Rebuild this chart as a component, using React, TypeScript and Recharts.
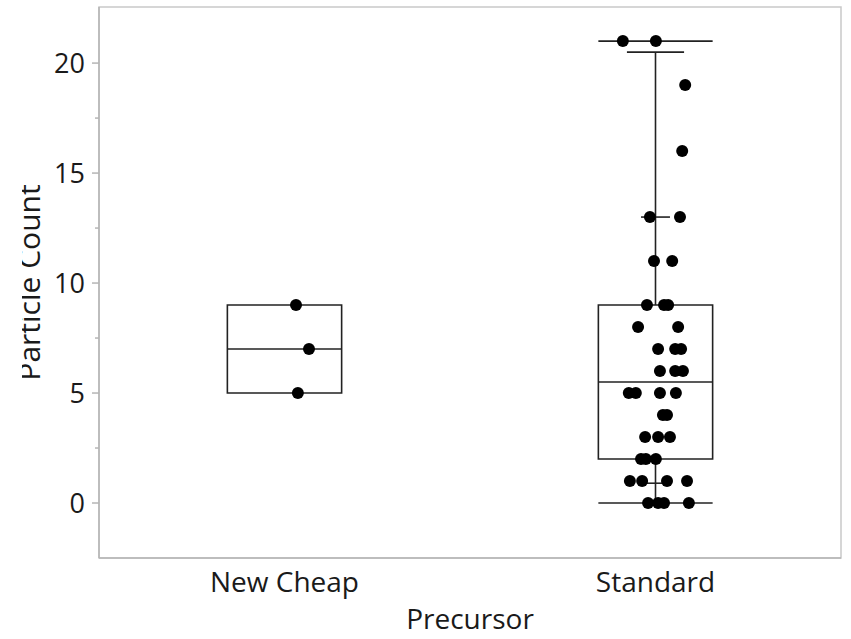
import { ComposedChart, Scatter, XAxis, YAxis, ReferenceArea, ReferenceLine } from 'recharts';

// categories and tick labels
const categories = ['New Cheap', 'Standard'];
const yTicks = [0, 2.5, 5, 7.5, 10, 12.5, 15, 17.5, 20];

// raw points (value + jitter offset, in category widths)
const newCheapValues = [9, 7, 5];
const newCheapJitter = [0.031, 0.066, 0.036];

const standardValues = [
  21, 21, 19, 16, 13, 13, 11, 11, 9, 9, 9, 8, 8, 7, 7, 7, 6, 6, 6,
  5, 5, 5, 5, 4, 4, 3, 3, 3, 2, 2, 2, 1, 1, 1, 1, 0, 0, 0, 0,
];
const standardJitter = [
  -0.088, 0.001, 0.08, 0.072, -0.015, 0.066, -0.004, 0.045, -0.023, 0.023, 0.034,
  -0.047, 0.061, 0.007, 0.053, 0.069, 0.012, 0.053, 0.074,
  -0.072, -0.053, 0.012, 0.055, 0.02, 0.031, -0.028, 0.007, 0.039,
  -0.039, -0.026, 0.001, -0.069, -0.036, 0.031, 0.085, -0.02, 0.007, 0.023, 0.09,
];

// box summaries per category
const boxQ1 = [5, 2];
const boxMedian = [7, 5.5];
const boxQ3 = [9, 9];

// Standard: whisker ends and extra quantile marks
const standardWhiskerLow = 0;
const standardWhiskerHigh = 20.5;
const standardMin = 0;
const standardMax = 21;
const standardInnerMarks = [20.5, 13, 0.9];
const innerMarkHalf = [0.077, 0.039, 0.039];

const BOX_HALF = 0.154;
const AXIS_GRAY = '#b5b5b5';
const FRAME_GRAY = '#c9c9c9';
const INK = '#222';
const FONT = '"Open Sans", "Noto Sans", sans-serif';

const newCheapPoints = newCheapValues.map((v, i) => ({ x: 0.5 + newCheapJitter[i], y: v }));
const standardPoints = standardValues.map((v, i) => ({ x: 1.5 + standardJitter[i], y: v }));

const Dot = (props: any) => <circle cx={props.cx} cy={props.cy} r={6} fill="#000" />;

const YTick = (props: any) => {
  const { x, y, payload } = props;
  const axisX = x + 14;
  const major = payload.value % 5 === 0;
  return (
    <g>
      <line x1={axisX - (major ? 7 : 4)} x2={axisX} y1={y} y2={y} stroke={AXIS_GRAY} strokeWidth={1.5} />
      {major && (
        <text x={axisX - 14} y={y} dy="0.36em" textAnchor="end" fill="#1a1a1a" fontSize={27} fontFamily={FONT}>
          {payload.value}
        </text>
      )}
    </g>
  );
};

const YLabel = (props: any) => {
  const vb = props.viewBox;
  const cy = vb.y + vb.height / 2;
  return (
    <text x={40} y={cy} transform={`rotate(-90, 40, ${cy})`} textAnchor="middle" fill="#1a1a1a" fontSize={30} fontFamily={FONT}>
      Particle Count
    </text>
  );
};

export default function App() {
  return (
    <div style={{ position: 'absolute', left: 0, top: 0, width: 851, height: 639, background: '#fff' }}>
      <ComposedChart width={851} height={639} margin={{ top: 7, right: 10, bottom: 0, left: 0 }}>
        <XAxis
          type="number"
          dataKey="x"
          domain={[0, 2]}
          ticks={[0.5, 1.5]}
          tickFormatter={(v: number) => categories[Math.floor(v)]}
          height={81}
          axisLine={{ stroke: AXIS_GRAY, strokeWidth: 1.5 }}
          tickLine={false}
          tickSize={0}
          tickMargin={14}
          tick={{ fill: '#1a1a1a', fontSize: 28, fontFamily: FONT }}
          label={{ value: 'Precursor', position: 'insideBottom', offset: 10, fill: '#1a1a1a', fontSize: 28, fontFamily: FONT }}
        />
        <YAxis
          type="number"
          dataKey="y"
          domain={[-2.5, 22.55]}
          ticks={yTicks}
          width={99}
          axisLine={{ stroke: AXIS_GRAY, strokeWidth: 1.5 }}
          tickLine={false}
          tickSize={7}
          tickMargin={7}
          tick={<YTick />}
          label={<YLabel />}
        />
        <ReferenceArea x1={0} x2={2} y1={-2.5} y2={22.55} fill="none" stroke={FRAME_GRAY} strokeWidth={1.5} />

        {categories.map((c, i) => (
          <ReferenceArea
            key={'box' + c}
            x1={i + 0.5 - BOX_HALF}
            x2={i + 0.5 + BOX_HALF}
            y1={boxQ1[i]}
            y2={boxQ3[i]}
            fill="none"
            stroke={INK}
            strokeWidth={1.6}
          />
        ))}
        {categories.map((c, i) => (
          <ReferenceLine
            key={'med' + c}
            segment={[{ x: i + 0.5 - BOX_HALF, y: boxMedian[i] }, { x: i + 0.5 + BOX_HALF, y: boxMedian[i] }]}
            stroke={INK}
            strokeWidth={1.6}
          />
        ))}

        <ReferenceLine segment={[{ x: 1.5, y: boxQ3[1] }, { x: 1.5, y: standardWhiskerHigh }]} stroke={INK} strokeWidth={1.6} />
        <ReferenceLine segment={[{ x: 1.5, y: boxQ1[1] }, { x: 1.5, y: standardWhiskerLow }]} stroke={INK} strokeWidth={1.6} />
        <ReferenceLine segment={[{ x: 1.5 - BOX_HALF, y: standardMax }, { x: 1.5 + BOX_HALF, y: standardMax }]} stroke={INK} strokeWidth={1.6} />
        <ReferenceLine segment={[{ x: 1.5 - BOX_HALF, y: standardMin }, { x: 1.5 + BOX_HALF, y: standardMin }]} stroke={INK} strokeWidth={1.6} />
        {standardInnerMarks.map((v, i) => (
          <ReferenceLine
            key={'mark' + i}
            segment={[{ x: 1.5 - innerMarkHalf[i], y: v }, { x: 1.5 + innerMarkHalf[i], y: v }]}
            stroke={INK}
            strokeWidth={1.6}
          />
        ))}

        <Scatter data={newCheapPoints} shape={<Dot />} isAnimationActive={false} />
        <Scatter data={standardPoints} shape={<Dot />} isAnimationActive={false} />
      </ComposedChart>
      <div style={{ position: 'absolute', left: 0, top: 0, width: 22, height: 639, background: '#fff' }} />
    </div>
  );
}
